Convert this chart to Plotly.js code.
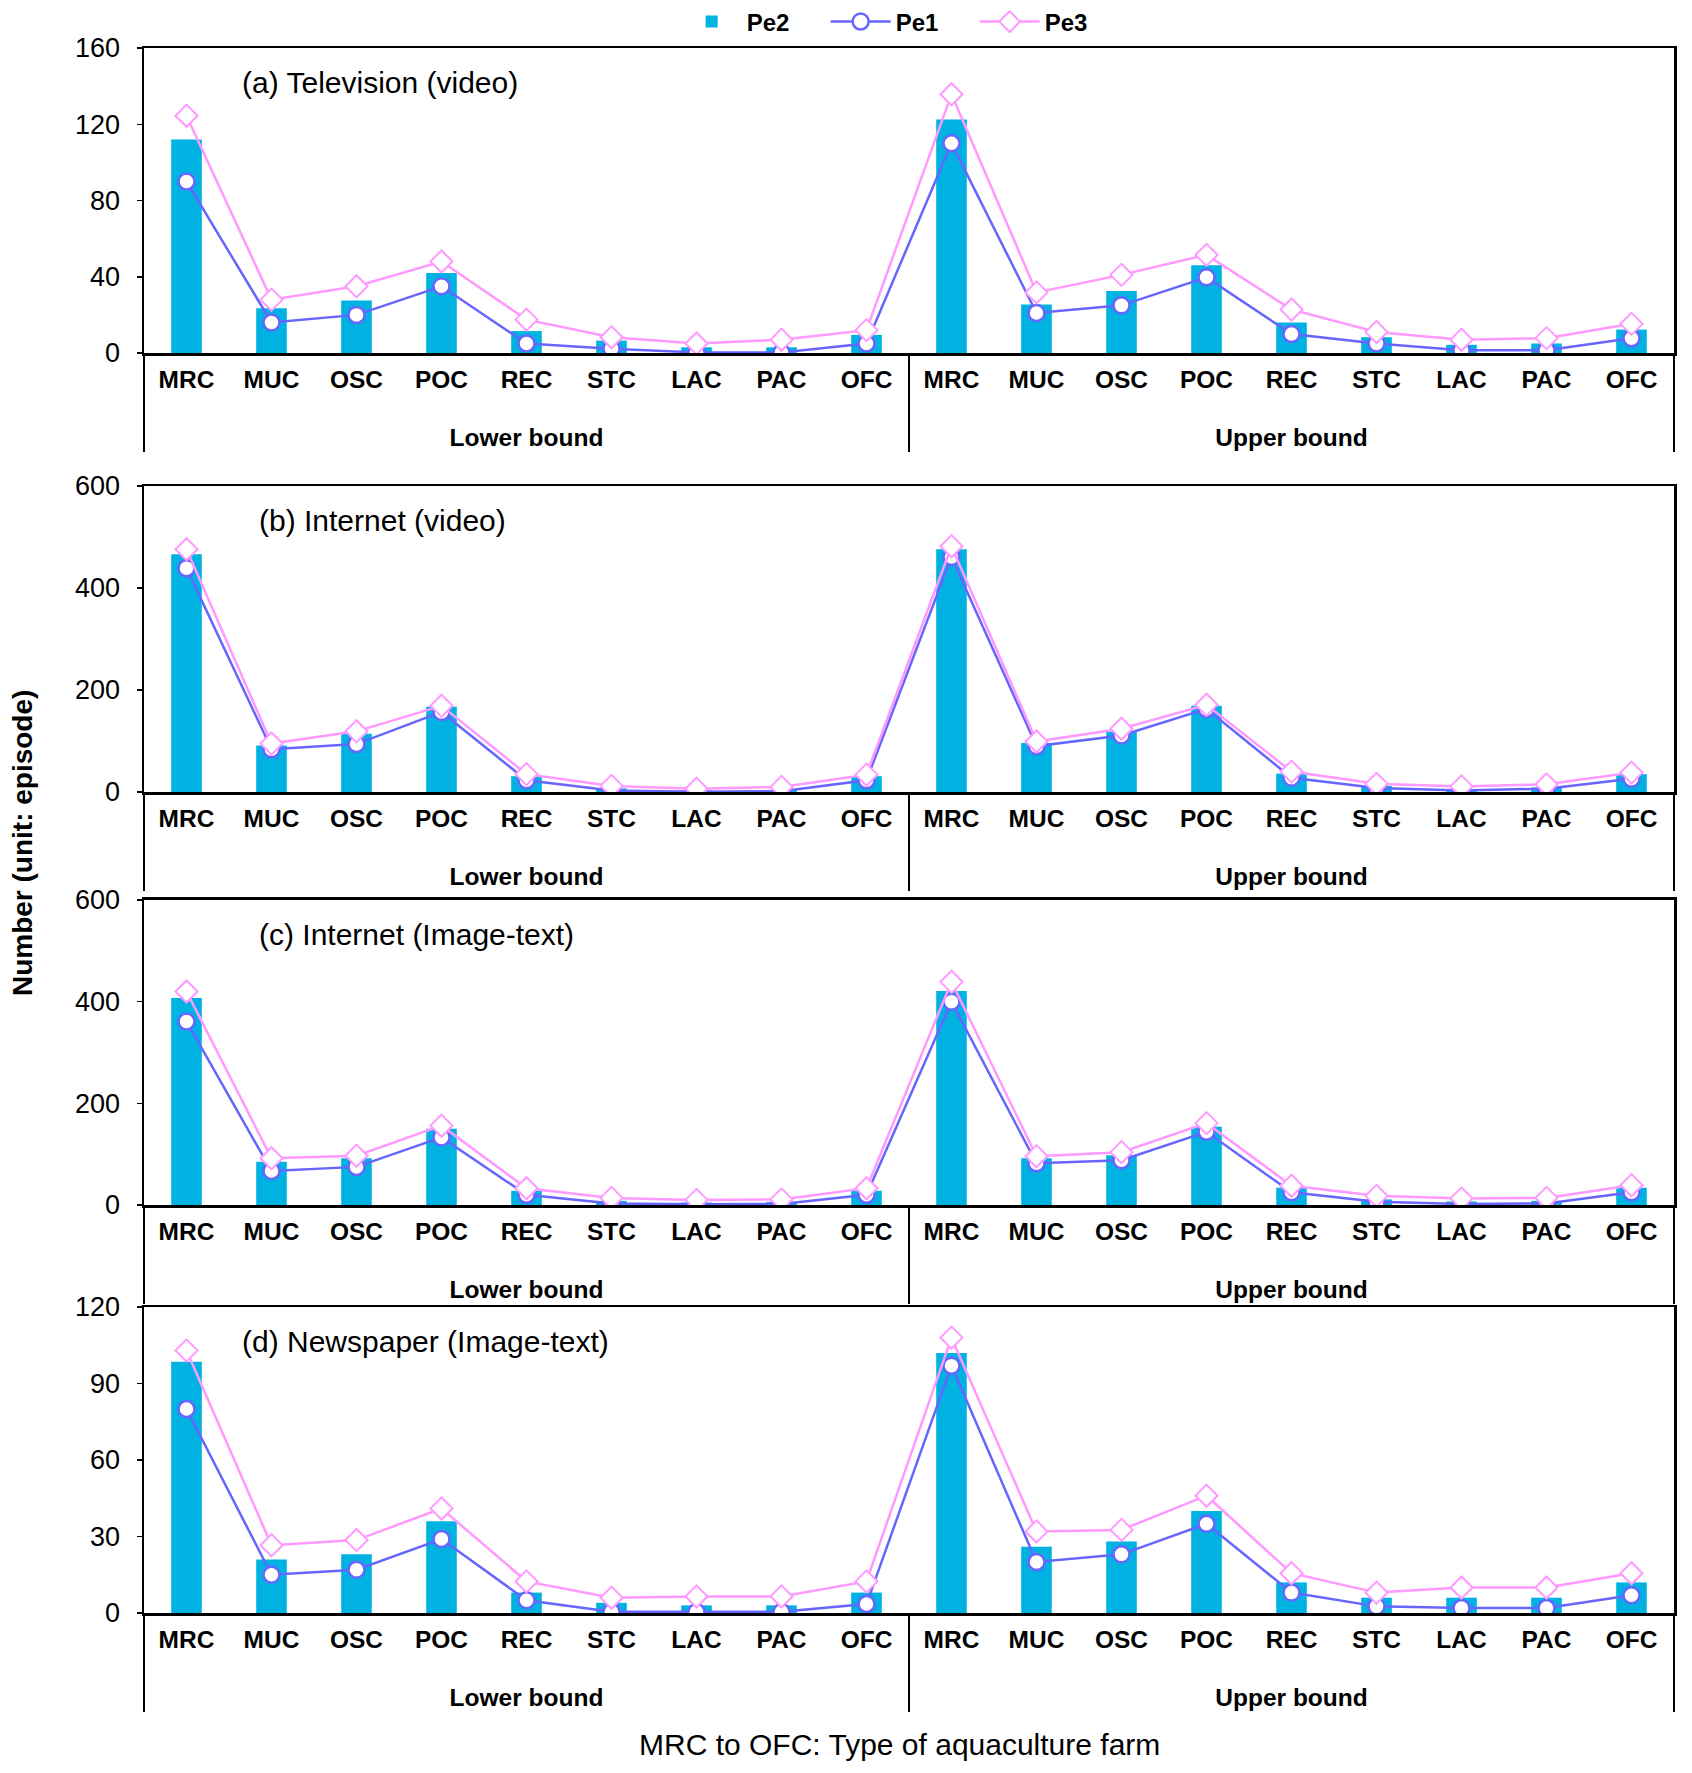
<!DOCTYPE html>
<html>
<head>
<meta charset="utf-8">
<script src="https://cdn.plot.ly/plotly-3.0.1.min.js"></script>
<style>
  body { margin: 0; background: #fff; }
  #chart { width: 1692px; height: 1773px; }
</style>
</head>
<body>
<div id="chart"></div>
<script>
// categories
var farms = ['MRC', 'MUC', 'OSC', 'POC', 'REC', 'STC', 'LAC', 'PAC', 'OFC'];
var bounds = ['Lower bound', 'Upper bound'];

// (a) Television (video): 9 lower-bound values, then 9 upper-bound values
var tvPe2 = [112, 23.5, 27.5, 42, 11.5, 6.5, 3, 3, 9.5,   122.5, 25.5, 32.5, 46, 16, 8.3, 4.3, 5, 12.3];
var tvPe1 = [90, 16, 20, 35, 5, 2.3, 0.3, 0.3, 5,          110, 21, 25, 39.7, 10, 5, 1.4, 1.4, 7.8];
var tvPe3 = [124.5, 28, 35, 48, 17.5, 8.3, 5, 7, 12,       135.7, 31.8, 41, 51.5, 22.8, 11, 7, 7.8, 15.3];

// (b) Internet (video)
var ivPe2 = [466, 91, 114, 167, 31, 7, 3, 4, 31,           476, 96, 118, 169, 36, 12, 6, 9, 35];
var ivPe1 = [439, 84, 94, 157, 23, 3, 0.5, 1.5, 23,        461, 90, 111, 163, 28, 8, 3, 6.5, 26];
var ivPe3 = [476, 95, 119, 169, 35, 12, 6.5, 10, 34,       482, 99, 124, 171, 40, 16, 11, 15, 38];

// (c) Internet (Image-text)
var itPe2 = [407, 85, 92, 150, 28, 8, 5, 6, 28,            421, 92, 98, 154, 34, 11, 7, 8, 34];
var itPe1 = [361, 67, 75, 133, 20, 3, 1.5, 2, 20,          400, 82, 88, 144, 25, 6.5, 2, 3, 25];
var itPe3 = [420, 92, 97, 156, 33, 14, 10, 11, 33,         439, 96, 104, 161, 38, 18, 13, 14, 39];

// (d) Newspaper (Image-text)
var npPe2 = [98.5, 21, 23, 36, 8, 4, 3, 3, 8,              102, 26, 28, 40, 12, 6, 6, 6, 12];
var npPe1 = [80, 15, 17, 29, 5, 0.5, 0.5, 0.5, 3.5,        97, 20, 23, 35, 8, 2.6, 2, 2, 7];
var npPe3 = [103, 26.6, 28.6, 41, 12.4, 6, 6.5, 6.5, 12.4, 108, 32, 32.6, 46, 15.6, 8, 10, 10, 15.6];

var panelTitles = ['(a) Television (video)', '(b) Internet (video)', '(c) Internet (Image-text)', '(d) Newspaper (Image-text)'];
var panelMax = [160, 600, 600, 120];
var panelStep = [40, 200, 200, 30];

var panels = [
  [tvPe2, tvPe1, tvPe3],
  [ivPe2, ivPe1, ivPe3],
  [itPe2, itPe1, itPe3],
  [npPe2, npPe1, npPe3]
];

// multicategory x: [bound level, farm level]
// the leading <br> just pushes the bound labels one line lower, like Excel does
var xGroup = [], xFarm = [];
bounds.forEach(function (b) {
  farms.forEach(function (f) { xGroup.push('<br>' + b); xFarm.push(f); });
});
var xCats = [xGroup, xFarm];

var FONT = 'Liberation Sans, Arial, sans-serif';
var barColor = '#00B2E2';
var pe1Color = '#6666FF';
var pe3Color = '#FF99FF';

var domains = [[0.8051, 1.0], [0.5246, 0.7201], [0.2607, 0.4556], [0.0, 0.1955]];
var titleX = [0.0627, 0.0739, 0.0739, 0.0627];

var data = [];
var layout = {
  width: 1692,
  height: 1773,
  margin: { l: 144, r: 18, t: 48, b: 160 },
  paper_bgcolor: '#fff',
  plot_bgcolor: '#fff',
  font: { family: FONT, size: 24, color: '#000' },
  bargap: 0.64,
  showlegend: true,
  legend: {
    orientation: 'h',
    xref: 'container', yref: 'container',
    x: 0.532, xanchor: 'center',
    y: 0.9876, yanchor: 'middle',
    font: { family: FONT, size: 24, weight: 'bold', color: '#000' },
    itemwidth: 60,
    entrywidth: 74, entrywidthmode: 'pixels',
    tracegroupgap: 0
  },
  annotations: [],
};

panels.forEach(function (series, i) {
  var n = i + 1;
  var xa = n === 1 ? 'x' : 'x' + n;
  var ya = n === 1 ? 'y' : 'y' + n;

  data.push({
    x: xCats, y: series[0], name: 'Pe2', type: 'bar',
    xaxis: xa, yaxis: ya,
    marker: { color: barColor },
    width: 0.36,
    showlegend: i === 0, legendgroup: 'pe2'
  });
  data.push({
    x: xCats, y: series[1], name: 'Pe1', type: 'scatter', mode: 'lines+markers',
    xaxis: xa, yaxis: ya,
    line: { color: pe1Color, width: 2.5 },
    marker: { symbol: 'circle', size: 16, color: '#fff', line: { color: pe1Color, width: 2.5 } },
    showlegend: i === 0, legendgroup: 'pe1'
  });
  data.push({
    x: xCats, y: series[2], name: 'Pe3', type: 'scatter', mode: 'lines+markers',
    xaxis: xa, yaxis: ya,
    line: { color: pe3Color, width: 2.5 },
    marker: { symbol: 'diamond', size: 17, color: '#fff', line: { color: pe3Color, width: 2 } },
    showlegend: i === 0, legendgroup: 'pe3'
  });

  layout['xaxis' + (n === 1 ? '' : n)] = {
    type: 'multicategory',
    anchor: ya,
    domain: [0, 1],
    range: [-0.5, 17.5],
    showline: true, mirror: true, linecolor: '#000', linewidth: 2.5,
    showgrid: false, zeroline: false,
    ticks: '',
    showdividers: true, dividercolor: '#000', dividerwidth: 2,
    tickfont: { family: FONT, size: 24.5, weight: 'bold', color: '#000' },
    ticklabelstandoff: 3
  };
  layout['yaxis' + (n === 1 ? '' : n)] = {
    anchor: xa,
    domain: domains[i],
    range: [0, panelMax[i]],
    dtick: panelStep[i],
    showline: true, mirror: true, linecolor: '#000', linewidth: 2.5,
    showgrid: false, zeroline: false,
    ticks: 'outside', ticklen: 5, tickwidth: 1.5, tickcolor: '#000',
    tickfont: { family: FONT, size: 27, color: '#000' },
    ticklabelstandoff: 11
  };

  layout.annotations.push({
    text: panelTitles[i],
    xref: 'paper', yref: ya + ' domain',
    x: titleX[i], y: 0.888, xanchor: 'left', yanchor: 'middle',
    showarrow: false,
    font: { family: FONT, size: 30, color: '#000' }
  });
});

layout.annotations.push({
  text: 'Number (unit: episode)',
  xref: 'paper', yref: 'paper',
  x: -0.0797, y: 0.492, xanchor: 'center', yanchor: 'middle',
  textangle: -90, showarrow: false,
  font: { family: FONT, size: 28, weight: 'bold', color: '#000' }
});
layout.annotations.push({
  text: 'MRC to OFC: Type of aquaculture farm',
  xref: 'paper', yref: 'paper',
  x: 0.4935, y: -0.084, xanchor: 'center', yanchor: 'middle',
  showarrow: false,
  font: { family: FONT, size: 30, color: '#000' }
});

Plotly.newPlot('chart', data, layout, { displayModeBar: false, staticPlot: true });
</script>
</body>
</html>
